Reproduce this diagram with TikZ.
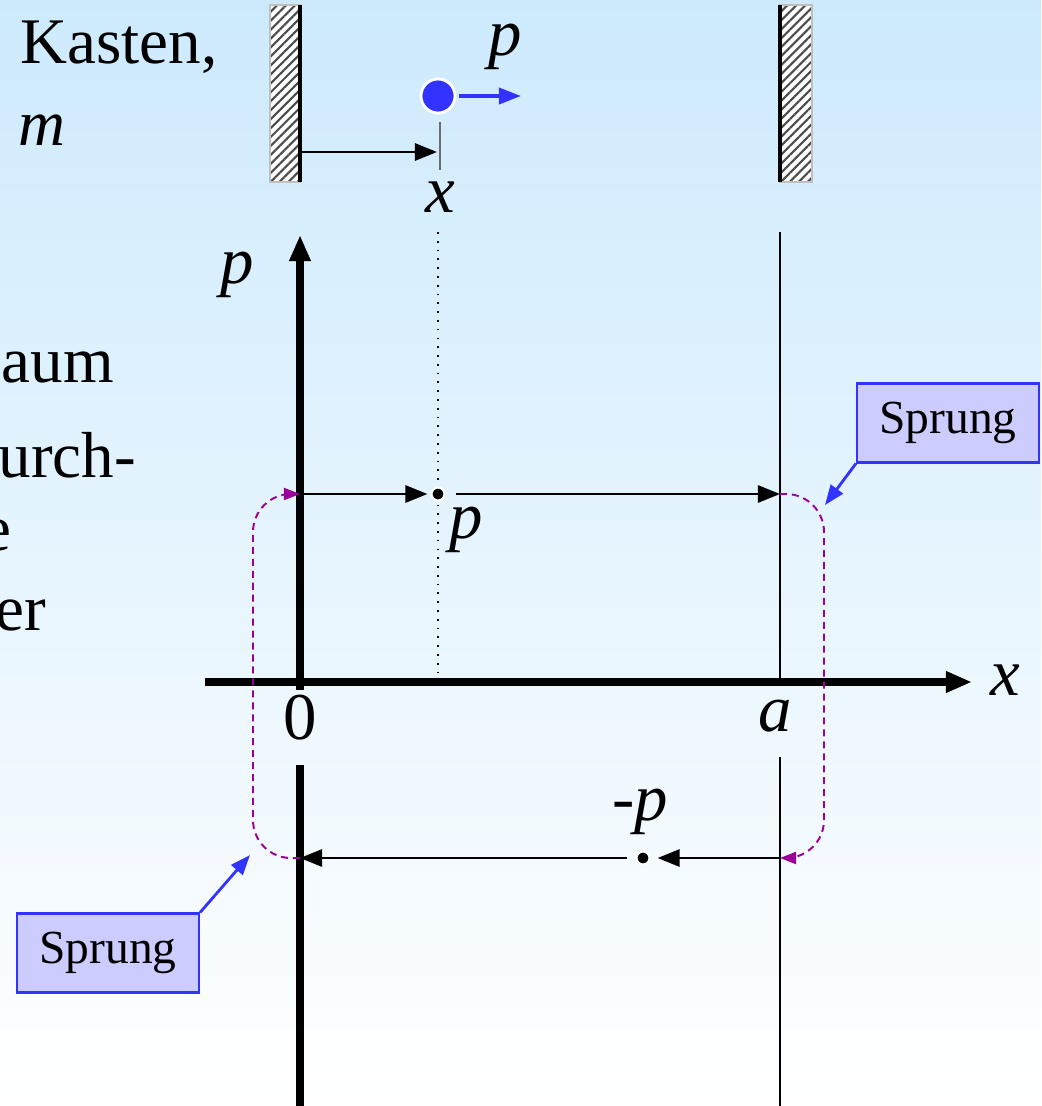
\documentclass[tikz,border=0pt]{standalone}
\usepackage{fontspec}
\setmainfont{Liberation Serif}
\usepackage{tikz}
\usetikzlibrary{arrows.meta, positioning, calc, patterns.meta}
\definecolor{bgtop}{RGB}{205,234,253}
\definecolor{myblue}{RGB}{51,51,255}
\definecolor{mylav}{RGB}{204,204,255}
\definecolor{mypurple}{RGB}{153,0,153}
\definecolor{mygray}{RGB}{110,110,110}
\tikzset{
  lbl/.style={font=\rmfamily\fontsize{19}{23}\selectfont\itshape, inner sep=1pt},
  txt/.style={font=\rmfamily\fontsize{18.5}{22}\selectfont, inner sep=0pt, anchor=base west},
  sprungbox/.style={rectangle, draw=myblue, fill=mylav, line width=0.6pt,
    minimum width=1.82cm, minimum height=0.79cm, font=\rmfamily\fontsize{13.5}{16}\selectfont},
  dot/.style={circle, fill=black, draw=white, line width=0.6pt, inner sep=0pt, minimum size=0.13cm},
  ball/.style={circle, fill=myblue, draw=white, line width=0.8pt, inner sep=0pt, minimum size=0.34cm},
  wall/.style={draw=gray!50, line width=0.3pt, preaction={fill=white},
    pattern={Lines[angle=45, distance=1.8pt, line width=0.6pt]}, pattern color=gray!60!black},
  axis/.style={line width=2pt, -{Triangle[length=0.26cm, width=0.2cm]}},
  arrow/.style={line width=0.8pt, -{Triangle[length=0.22cm, width=0.17cm]}},
  jump/.style={mypurple, dash pattern=on 2pt off 1.4pt, line width=0.55pt,
    rounded corners=0.38cm, -{Triangle[length=0.16cm, width=0.12cm]}},
  pointer/.style={myblue, line width=0.8pt, -{Triangle[length=0.2cm, width=0.15cm]}}
}
\begin{document}
\begin{tikzpicture}[x=0.01cm, y=-0.01cm]
  \useasboundingbox (0,0) rectangle (1041,1106);
  \clip (0,0) rectangle (1041,1106);
  \fill[top color=bgtop, bottom color=white] (0,0) rectangle (1041,1106);
  % Text on the left
  \node[txt] (t1) at (20,63) {Kasten,};
  \node[txt] (t2) at (18,145) {\itshape m};
  \node[txt] (t3) at (1,382) {aum};
  \node[txt] (t4) at (-2,477) {urch-};
  \node[txt] (t5) at (-18,550) {e};
  \node[txt] (t6) at (-5,630) {er};
  % Walls
  \path[wall] (270,5) rectangle (300,182);
  \draw[line width=1.3pt] (300,5) -- (300,182);
  \path[wall] (780,5) rectangle (812,182);
  \draw[line width=1.3pt] (780,5) -- (780,182);
  % Particle
  \coordinate (w0) at (300,152);
  \coordinate (xm) at (437,152);
  \draw[arrow] (w0) -- (xm);
  \draw[mygray, line width=0.4pt] (440,122) -- (440,170);
  \node[ball] (ball) at (438,96) {};
  \coordinate (pv) at (521,96);
  \draw[myblue, line width=1pt, -{Triangle[length=0.22cm, width=0.16cm]}] ([xshift=0.03cm]ball.east) -- (pv);
  \node[lbl] (pball) at (505,47) {p};
  \node[lbl] (xpos) at (440,197) {x};
  % Axes
  \draw[axis] (300,690) -- (300,235);
  \draw[line width=2pt] (300,765) -- (300,1106);
  \draw[axis] (205,682) -- (972,682);
  \draw[line width=0.5pt] (780,232) -- (780,682);
  \draw[line width=0.5pt] (780,757) -- (780,1106);
  \draw[dotted, line width=0.5pt] (438,232) -- (438,682);
  \node[lbl] (plbl) at (237,275) {p};
  \node[lbl] (xlbl) at (1005,680) {x};
  \node[lbl, font=\rmfamily\fontsize{19}{23}\selectfont] (zero) at (300,718) {0};
  \node[lbl] (albl) at (775,716) {a};
  % Trajectory
  \coordinate (a1) at (300,494);
  \coordinate (b1) at (780,494);
  \coordinate (b2) at (780,858);
  \coordinate (a2) at (300,858);
  \node[dot] (d1) at (438,494) {};
  \node[dot] (d2) at (643,858) {};
  \draw[arrow] (a1) -- ([xshift=-0.03cm]d1.west);
  \draw[arrow] ([xshift=0.1cm]d1.east) -- (b1);
  \draw[arrow] (b2) -- ([xshift=0.07cm]d2.east);
  \draw[arrow] ([xshift=-0.08cm]d2.west) -- (a2);
  \node[lbl] (pup) at (466,530) {p};
  \node[lbl] (pdown) at (640,812) {-p};
  % Jumps
  \draw[jump] (b1) -- (824,494) -- (824,858) -- (b2);
  \draw[jump] (a2) -- (253,858) -- (253,494) -- (a1);
  \node[sprungbox] (sprR) at (948,423) {Sprung};
  \node[sprungbox] (sprL) at (108,953) {Sprung};
  \coordinate (tipR) at (825,505);
  \coordinate (tipL) at (250,855);
  \draw[pointer] (sprR.south west) -- (tipR);
  \draw[pointer] (sprL.north east) -- (tipL);
\end{tikzpicture}
\end{document}
